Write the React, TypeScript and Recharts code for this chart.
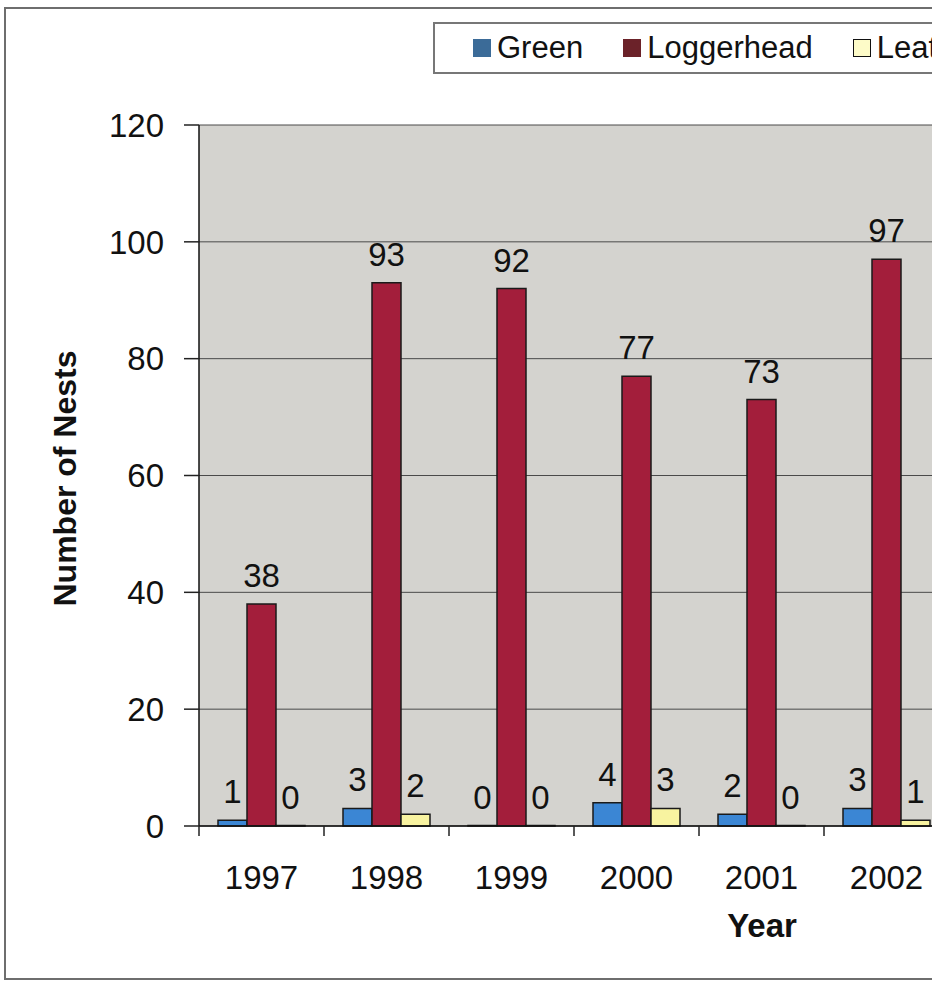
import React from 'react'
import { BarChart, Bar, XAxis, YAxis, CartesianGrid, LabelList, Label } from 'recharts'

const years = ['1997', '1998', '1999', '2000', '2001', '2002']
const green = [1, 3, 0, 4, 2, 3]
const loggerhead = [38, 93, 92, 77, 73, 97]
const leatherback = [0, 2, 0, 3, 0, 1]
const yTicks = [0, 20, 40, 60, 80, 100, 120]

const series = [
  { key: 'green', name: 'Green', fill: '#3b86d4', swatch: '#3b6b98' },
  { key: 'loggerhead', name: 'Loggerhead', fill: '#a31e3b', swatch: '#6b2229' },
  { key: 'leatherback', name: 'Leatherback', fill: '#f8f3a0', swatch: '#fdfbc8' },
]

const data = years.map((year, i) => ({
  year,
  green: green[i],
  loggerhead: loggerhead[i],
  leatherback: leatherback[i],
}))

const font = '"Liberation Sans", Arial, sans-serif'
const TICK_SIZE = 10
const TICK_MARGIN = 30

// year label plus a small tick mark on the left edge of each category band
function YearTick(props: any) {
  const { x, y, payload, index, visibleTicksCount } = props
  const half = payload && payload.offset ? payload.offset : 0
  const axisY = y - TICK_SIZE - TICK_MARGIN
  const last = index === (visibleTicksCount || years.length) - 1
  return (
    <g>
      <line x1={x - half} x2={x - half} y1={axisY} y2={axisY + TICK_SIZE} stroke="#222" strokeWidth={1.5} />
      {last && (
        <line x1={x + half} x2={x + half} y1={axisY} y2={axisY + TICK_SIZE} stroke="#222" strokeWidth={1.5} />
      )}
      <text
        x={x}
        y={y}
        dy="0.71em"
        textAnchor="middle"
        style={{ fontSize: 33, fill: '#111', fontFamily: font }}
      >
        {payload.value}
      </text>
    </g>
  )
}

function LegendBox() {
  return (
    <div
      style={{
        position: 'absolute',
        left: 433,
        top: 22,
        width: 600,
        height: 48,
        border: '2px solid #777',
        display: 'flex',
        alignItems: 'center',
        paddingLeft: 38,
        fontFamily: font,
        fontSize: 31,
        color: '#111',
        background: '#fff',
      }}
    >
      {series.map((s) => (
        <div key={s.key} style={{ display: 'flex', alignItems: 'center', marginRight: 40 }}>
          <span
            style={{
              display: 'inline-block',
              width: 18,
              height: 18,
              background: s.swatch,
              border: s.key === 'leatherback' ? '1.5px solid #111' : 'none',
              boxSizing: 'border-box',
              marginRight: 6,
            }}
          />
          <span style={{ whiteSpace: 'nowrap' }}>{s.name}</span>
        </div>
      ))}
    </div>
  )
}

export default function App() {
  return (
    <div
      style={{
        position: 'absolute',
        left: 0,
        top: 0,
        width: 932,
        height: 984,
        overflow: 'hidden',
        background: '#fff',
        fontFamily: font,
      }}
    >
      <div
        style={{
          position: 'absolute',
          left: 4,
          top: 7,
          width: 1000,
          height: 969,
          border: '2px solid #6e6e6e',
        }}
      />
      <div style={{ position: 'absolute', left: 0, top: 0 }}>
        <BarChart
          width={1000}
          height={984}
          data={data}
          margin={{ top: 125, right: 51, bottom: 38, left: 0 }}
          barGap={0}
          barSize={29}
        >
          <CartesianGrid vertical={false} fill="#d4d3cf" stroke="#4a4a4a" strokeWidth={1} />
          <XAxis
            dataKey="year"
            height={120}
            tickLine={false}
            tickSize={TICK_SIZE}
            tickMargin={TICK_MARGIN}
            axisLine={{ stroke: '#111', strokeWidth: 1.5 }}
            tick={<YearTick />}
          >
            <Label
              value="Year"
              position="insideBottom"
              offset={9}
              dx={188}
              style={{ fontSize: 33, fontWeight: 'bold', fill: '#111', fontFamily: font }}
            />
          </XAxis>
          <YAxis
            width={199}
            domain={[0, 120]}
            ticks={yTicks}
            tickSize={15}
            tickMargin={20}
            axisLine={{ stroke: '#111', strokeWidth: 1.5 }}
            tickLine={{ stroke: '#222', strokeWidth: 1.5 }}
            tick={{ fontSize: 33, fill: '#111', fontFamily: font }}
          >
            <Label
              value="Number of Nests"
              angle={-90}
              position="center"
              dx={-35}
              dy={3}
              style={{ fontSize: 32, fontWeight: 'bold', fill: '#111', fontFamily: font }}
            />
          </YAxis>
          {series.map((s) => (
            <Bar
              key={s.key}
              dataKey={s.key}
              name={s.name}
              fill={s.fill}
              stroke="#1a1a1a"
              strokeWidth={1.5}
              minPointSize={0.5}
              isAnimationActive={false}
            >
              <LabelList
                dataKey={s.key}
                position="top"
                offset={17}
                style={{ fontSize: 33, fill: '#111', fontFamily: font }}
              />
            </Bar>
          ))}
        </BarChart>
      </div>
      <LegendBox />
    </div>
  )
}
